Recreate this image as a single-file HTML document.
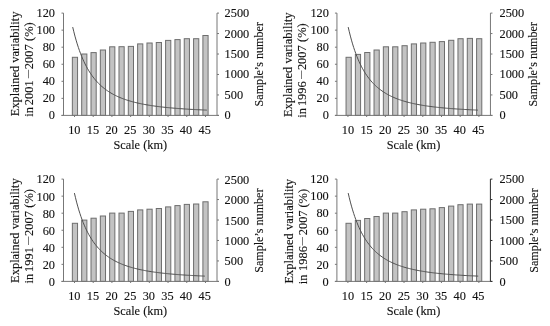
<!DOCTYPE html>
<html><head><meta charset="utf-8"><title>Explained variability vs scale</title>
<style>
html,body{margin:0;padding:0;background:#fff;width:550px;height:326px;overflow:hidden}
svg{display:block}
text{font-family:"Liberation Serif","Times New Roman",serif;font-size:12.3px;fill:#111;stroke:#111;stroke-width:0.12px}
.yt text{font-size:12.45px}
.d{font-size:8.3px}
.rt{font-size:12.1px}
.b{fill:#c3c3c3;stroke:#6e6e6e;stroke-width:1}
.ax{fill:none;stroke-width:1}
.cv{fill:none;stroke:#505050;stroke-width:1}
</style></head><body>
<svg width="550" height="326" viewBox="0 0 550 326">
<rect width="550" height="326" fill="#fff"/>
<g transform="translate(0,0)">
<rect x="72.35" y="57.3" width="5.2" height="58.1" class="b"/>
<rect x="81.68" y="54" width="5.2" height="61.4" class="b"/>
<rect x="91" y="52.6" width="5.2" height="62.8" class="b"/>
<rect x="100.33" y="50" width="5.2" height="65.4" class="b"/>
<rect x="109.65" y="46.8" width="5.2" height="68.6" class="b"/>
<rect x="118.98" y="46.7" width="5.2" height="68.7" class="b"/>
<rect x="128.3" y="46.4" width="5.2" height="69" class="b"/>
<rect x="137.62" y="43.9" width="5.2" height="71.5" class="b"/>
<rect x="146.95" y="43" width="5.2" height="72.4" class="b"/>
<rect x="156.28" y="42.5" width="5.2" height="72.9" class="b"/>
<rect x="165.6" y="40.4" width="5.2" height="75" class="b"/>
<rect x="174.92" y="39.6" width="5.2" height="75.8" class="b"/>
<rect x="184.25" y="38.7" width="5.2" height="76.7" class="b"/>
<rect x="193.58" y="38.7" width="5.2" height="76.7" class="b"/>
<rect x="202.9" y="35.5" width="5.2" height="79.9" class="b"/>
<path d="M63.5 13.1V115.4M61.5 115.4H219M61.5 115.4H63.5M61.5 98.35H63.5M61.5 81.3H63.5M61.5 64.25H63.5M61.5 47.2H63.5M61.5 30.15H63.5M61.5 13.1H63.5M74.5 115.4V117M93.21 115.4V117M111.92 115.4V117M130.63 115.4V117M149.34 115.4V117M168.05 115.4V117M186.76 115.4V117M205.47 115.4V117" class="ax" stroke="#777"/>
<path d="M217 13.1V115.4M217 115.4H219M217 94.94H219M217 74.48H219M217 54.02H219M217 33.56H219M217 13.1H219" class="ax" stroke="#777"/>
<polyline points="72.70,27.07 73.83,31.75 74.95,36.10 76.08,40.13 77.21,43.88 78.33,47.37 79.46,50.63 80.59,53.67 81.72,56.51 82.84,59.17 83.97,61.66 85.10,64.00 86.22,66.19 87.35,68.26 88.48,70.20 89.60,72.03 90.73,73.75 91.86,75.38 92.98,76.91 94.11,78.37 95.24,79.74 96.36,81.04 97.49,82.27 98.62,83.44 99.75,84.55 100.87,85.60 102.00,86.60 103.13,87.55 104.25,88.45 105.38,89.32 106.51,90.14 107.63,90.92 108.76,91.67 109.89,92.38 111.01,93.06 112.14,93.71 113.27,94.33 114.39,94.92 115.52,95.49 116.65,96.04 117.78,96.56 118.90,97.06 120.03,97.54 121.16,98.00 122.28,98.44 123.41,98.86 124.54,99.27 125.66,99.66 126.79,100.04 127.92,100.40 129.04,100.75 130.17,101.08 131.30,101.41 132.43,101.72 133.55,102.02 134.68,102.31 135.81,102.58 136.93,102.85 138.06,103.11 139.19,103.36 140.31,103.60 141.44,103.84 142.57,104.06 143.69,104.28 144.82,104.49 145.95,104.70 147.07,104.89 148.20,105.08 149.33,105.27 150.46,105.45 151.58,105.62 152.71,105.79 153.84,105.95 154.96,106.11 156.09,106.26 157.22,106.41 158.34,106.55 159.47,106.69 160.60,106.83 161.72,106.96 162.85,107.09 163.98,107.21 165.11,107.33 166.23,107.45 167.36,107.56 168.49,107.67 169.61,107.78 170.74,107.88 171.87,107.98 172.99,108.08 174.12,108.18 175.25,108.27 176.37,108.36 177.50,108.45 178.63,108.54 179.75,108.62 180.88,108.70 182.01,108.78 183.14,108.86 184.26,108.94 185.39,109.01 186.52,109.08 187.64,109.15 188.77,109.22 189.90,109.29 191.02,109.35 192.15,109.42 193.28,109.48 194.40,109.54 195.53,109.60 196.66,109.66 197.78,109.71 198.91,109.77 200.04,109.82 201.17,109.87 202.29,109.92 203.42,109.98 204.55,110.02 205.67,110.07 206.80,110.12" class="cv"/>
</g>
<g transform="translate(0,0)" text-anchor="end">
<text x="55" y="119.4">0</text>
<text x="55" y="102.35">20</text>
<text x="55" y="85.3">40</text>
<text x="55" y="68.25">60</text>
<text x="55" y="51.2">80</text>
<text x="55" y="34.15">100</text>
<text x="55" y="17.1">120</text>
</g>
<g transform="translate(0,0)">
<text x="224.6" y="119.4">0</text>
<text x="224.6" y="98.94">500</text>
<text x="224.6" y="78.48">1000</text>
<text x="224.6" y="58.02">1500</text>
<text x="224.6" y="37.56">2000</text>
<text x="224.6" y="17.1">2500</text>
</g>
<g transform="translate(0,0)" text-anchor="middle">
<text x="74.3" y="133.7">10</text>
<text x="92.92" y="133.7">15</text>
<text x="111.54" y="133.7">20</text>
<text x="130.16" y="133.7">25</text>
<text x="148.78" y="133.7">30</text>
<text x="167.4" y="133.7">35</text>
<text x="186.02" y="133.7">40</text>
<text x="204.64" y="133.7">45</text>
</g>
<g transform="translate(0,0)"><text x="140.25" y="148.9" text-anchor="middle">Scale (km)</text></g>
<g transform="translate(0,0)" class="yt">
<text transform="translate(18.9,116.2) rotate(-90)">Explained variability</text>
<text transform="translate(33,116.8) rotate(-90)">in <tspan x="11.6">2001 </tspan><tspan class="d" x="38.6" dy="-2.7">—</tspan><tspan x="47.6" dy="2.7">2007 </tspan><tspan x="75.8">(%)</tspan></text>
</g>
<g transform="translate(0,0)"><text transform="translate(262.5,64.25) rotate(-90)" text-anchor="middle" class="rt">Sample’s number</text></g>
<g transform="translate(273.45,0)">
<rect x="72.6" y="57.3" width="5.2" height="58.1" class="b"/>
<rect x="81.93" y="54.4" width="5.2" height="61" class="b"/>
<rect x="91.25" y="52.5" width="5.2" height="62.9" class="b"/>
<rect x="100.58" y="50" width="5.2" height="65.4" class="b"/>
<rect x="109.9" y="46.8" width="5.2" height="68.6" class="b"/>
<rect x="119.23" y="46.8" width="5.2" height="68.6" class="b"/>
<rect x="128.55" y="45.7" width="5.2" height="69.7" class="b"/>
<rect x="137.88" y="43.9" width="5.2" height="71.5" class="b"/>
<rect x="147.2" y="43" width="5.2" height="72.4" class="b"/>
<rect x="156.53" y="42.3" width="5.2" height="73.1" class="b"/>
<rect x="165.85" y="41.6" width="5.2" height="73.8" class="b"/>
<rect x="175.17" y="40.3" width="5.2" height="75.1" class="b"/>
<rect x="184.5" y="38.7" width="5.2" height="76.7" class="b"/>
<rect x="193.83" y="38.4" width="5.2" height="77" class="b"/>
<rect x="203.15" y="38.7" width="5.2" height="76.7" class="b"/>
<path d="M63.5 13.1V115.4M61.5 115.4H219M61.5 115.4H63.5M61.5 98.35H63.5M61.5 81.3H63.5M61.5 64.25H63.5M61.5 47.2H63.5M61.5 30.15H63.5M61.5 13.1H63.5M74.5 115.4V117M93.21 115.4V117M111.92 115.4V117M130.63 115.4V117M149.34 115.4V117M168.05 115.4V117M186.76 115.4V117M205.47 115.4V117" class="ax" stroke="#777"/>
<path d="M217 13.1V115.4M217 115.4H219M217 94.94H219M217 74.48H219M217 54.02H219M217 33.56H219M217 13.1H219" class="ax" stroke="#777"/>
<polyline points="74.75,27.07 75.84,31.75 76.93,36.10 78.02,40.13 79.11,43.88 80.20,47.37 81.29,50.63 82.38,53.67 83.47,56.51 84.56,59.17 85.64,61.66 86.73,64.00 87.82,66.19 88.91,68.26 90.00,70.20 91.09,72.03 92.18,73.75 93.27,75.38 94.36,76.91 95.45,78.37 96.54,79.74 97.63,81.04 98.72,82.27 99.81,83.44 100.90,84.55 101.99,85.60 103.08,86.60 104.17,87.55 105.26,88.45 106.35,89.32 107.43,90.14 108.52,90.92 109.61,91.67 110.70,92.38 111.79,93.06 112.88,93.71 113.97,94.33 115.06,94.92 116.15,95.49 117.24,96.04 118.33,96.56 119.42,97.06 120.51,97.54 121.60,98.00 122.69,98.44 123.78,98.86 124.87,99.27 125.96,99.66 127.05,100.04 128.14,100.40 129.22,100.75 130.31,101.08 131.40,101.41 132.49,101.72 133.58,102.02 134.67,102.31 135.76,102.58 136.85,102.85 137.94,103.11 139.03,103.36 140.12,103.60 141.21,103.84 142.30,104.06 143.39,104.28 144.48,104.49 145.57,104.70 146.66,104.89 147.75,105.08 148.84,105.27 149.93,105.45 151.01,105.62 152.10,105.79 153.19,105.95 154.28,106.11 155.37,106.26 156.46,106.41 157.55,106.55 158.64,106.69 159.73,106.83 160.82,106.96 161.91,107.09 163.00,107.21 164.09,107.33 165.18,107.45 166.27,107.56 167.36,107.67 168.45,107.78 169.54,107.88 170.63,107.98 171.72,108.08 172.80,108.18 173.89,108.27 174.98,108.36 176.07,108.45 177.16,108.54 178.25,108.62 179.34,108.70 180.43,108.78 181.52,108.86 182.61,108.94 183.70,109.01 184.79,109.08 185.88,109.15 186.97,109.22 188.06,109.29 189.15,109.35 190.24,109.42 191.33,109.48 192.42,109.54 193.51,109.60 194.59,109.66 195.68,109.71 196.77,109.77 197.86,109.82 198.95,109.87 200.04,109.92 201.13,109.98 202.22,110.02 203.31,110.07 204.40,110.12" class="cv"/>
</g>
<g transform="translate(273.9,0)" text-anchor="end">
<text x="55" y="119.4">0</text>
<text x="55" y="102.35">20</text>
<text x="55" y="85.3">40</text>
<text x="55" y="68.25">60</text>
<text x="55" y="51.2">80</text>
<text x="55" y="34.15">100</text>
<text x="55" y="17.1">120</text>
</g>
<g transform="translate(274.9,0)">
<text x="224.6" y="119.4">0</text>
<text x="224.6" y="98.94">500</text>
<text x="224.6" y="78.48">1000</text>
<text x="224.6" y="58.02">1500</text>
<text x="224.6" y="37.56">2000</text>
<text x="224.6" y="17.1">2500</text>
</g>
<g transform="translate(273.7,0.2)" text-anchor="middle">
<text x="74.3" y="133.7">10</text>
<text x="92.92" y="133.7">15</text>
<text x="111.54" y="133.7">20</text>
<text x="130.16" y="133.7">25</text>
<text x="148.78" y="133.7">30</text>
<text x="167.4" y="133.7">35</text>
<text x="186.02" y="133.7">40</text>
<text x="204.64" y="133.7">45</text>
</g>
<g transform="translate(273.2,0.3)"><text x="140.25" y="148.9" text-anchor="middle">Scale (km)</text></g>
<g transform="translate(272.7,0.9)" class="yt">
<text transform="translate(18.9,116.2) rotate(-90)">Explained variability</text>
<text transform="translate(33,116.8) rotate(-90)">in <tspan x="11.6">1996 </tspan><tspan class="d" x="38.6" dy="-2.7">—</tspan><tspan x="47.6" dy="2.7">2007 </tspan><tspan x="75.8">(%)</tspan></text>
</g>
<g transform="translate(274.5,0)"><text transform="translate(262.5,64.25) rotate(-90)" text-anchor="middle" class="rt">Sample’s number</text></g>
<g transform="translate(0,166)">
<rect x="72.35" y="57.3" width="5.2" height="58.1" class="b"/>
<rect x="81.68" y="54.1" width="5.2" height="61.3" class="b"/>
<rect x="91" y="52.2" width="5.2" height="63.2" class="b"/>
<rect x="100.33" y="50" width="5.2" height="65.4" class="b"/>
<rect x="109.65" y="47.1" width="5.2" height="68.3" class="b"/>
<rect x="118.98" y="47.1" width="5.2" height="68.3" class="b"/>
<rect x="128.3" y="45.4" width="5.2" height="70" class="b"/>
<rect x="137.62" y="43.9" width="5.2" height="71.5" class="b"/>
<rect x="146.95" y="43.2" width="5.2" height="72.2" class="b"/>
<rect x="156.28" y="42.5" width="5.2" height="72.9" class="b"/>
<rect x="165.6" y="40.9" width="5.2" height="74.5" class="b"/>
<rect x="174.92" y="39.6" width="5.2" height="75.8" class="b"/>
<rect x="184.25" y="38.4" width="5.2" height="77" class="b"/>
<rect x="193.58" y="38" width="5.2" height="77.4" class="b"/>
<rect x="202.9" y="35.8" width="5.2" height="79.6" class="b"/>
<path d="M63.5 13.1V115.4M61.5 115.4H219M61.5 115.4H63.5M61.5 98.35H63.5M61.5 81.3H63.5M61.5 64.25H63.5M61.5 47.2H63.5M61.5 30.15H63.5M61.5 13.1H63.5M74.5 115.4V117M93.21 115.4V117M111.92 115.4V117M130.63 115.4V117M149.34 115.4V117M168.05 115.4V117M186.76 115.4V117M205.47 115.4V117" class="ax" stroke="#777"/>
<path d="M217 13.1V115.4M217 115.4H219M217 94.94H219M217 74.48H219M217 54.02H219M217 33.56H219M217 13.1H219" class="ax" stroke="#777"/>
<polyline points="74.40,27.07 75.50,31.75 76.59,36.10 77.69,40.13 78.78,43.88 79.88,47.37 80.97,50.63 82.07,53.67 83.17,56.51 84.26,59.17 85.36,61.66 86.45,64.00 87.55,66.19 88.65,68.26 89.74,70.20 90.84,72.03 91.93,73.75 93.03,75.38 94.12,76.91 95.22,78.37 96.32,79.74 97.41,81.04 98.51,82.27 99.60,83.44 100.70,84.55 101.79,85.60 102.89,86.60 103.99,87.55 105.08,88.45 106.18,89.32 107.27,90.14 108.37,90.92 109.47,91.67 110.56,92.38 111.66,93.06 112.75,93.71 113.85,94.33 114.94,94.92 116.04,95.49 117.14,96.04 118.23,96.56 119.33,97.06 120.42,97.54 121.52,98.00 122.62,98.44 123.71,98.86 124.81,99.27 125.90,99.66 127.00,100.04 128.09,100.40 129.19,100.75 130.29,101.08 131.38,101.41 132.48,101.72 133.57,102.02 134.67,102.31 135.76,102.58 136.86,102.85 137.96,103.11 139.05,103.36 140.15,103.60 141.24,103.84 142.34,104.06 143.44,104.28 144.53,104.49 145.63,104.70 146.72,104.89 147.82,105.08 148.91,105.27 150.01,105.45 151.11,105.62 152.20,105.79 153.30,105.95 154.39,106.11 155.49,106.26 156.58,106.41 157.68,106.55 158.78,106.69 159.87,106.83 160.97,106.96 162.06,107.09 163.16,107.21 164.26,107.33 165.35,107.45 166.45,107.56 167.54,107.67 168.64,107.78 169.73,107.88 170.83,107.98 171.93,108.08 173.02,108.18 174.12,108.27 175.21,108.36 176.31,108.45 177.41,108.54 178.50,108.62 179.60,108.70 180.69,108.78 181.79,108.86 182.88,108.94 183.98,109.01 185.08,109.08 186.17,109.15 187.27,109.22 188.36,109.29 189.46,109.35 190.55,109.42 191.65,109.48 192.75,109.54 193.84,109.60 194.94,109.66 196.03,109.71 197.13,109.77 198.23,109.82 199.32,109.87 200.42,109.92 201.51,109.98 202.61,110.02 203.70,110.07 204.80,110.12" class="cv"/>
</g>
<g transform="translate(0,166.4)" text-anchor="end">
<text x="55" y="119.4">0</text>
<text x="55" y="102.35">20</text>
<text x="55" y="85.3">40</text>
<text x="55" y="68.25">60</text>
<text x="55" y="51.2">80</text>
<text x="55" y="34.15">100</text>
<text x="55" y="17.1">120</text>
</g>
<g transform="translate(0,166.5)">
<text x="224.6" y="119.4">0</text>
<text x="224.6" y="98.94">500</text>
<text x="224.6" y="78.48">1000</text>
<text x="224.6" y="58.02">1500</text>
<text x="224.6" y="37.56">2000</text>
<text x="224.6" y="17.1">2500</text>
</g>
<g transform="translate(0,166.1)" text-anchor="middle">
<text x="74.3" y="133.7">10</text>
<text x="92.92" y="133.7">15</text>
<text x="111.54" y="133.7">20</text>
<text x="130.16" y="133.7">25</text>
<text x="148.78" y="133.7">30</text>
<text x="167.4" y="133.7">35</text>
<text x="186.02" y="133.7">40</text>
<text x="204.64" y="133.7">45</text>
</g>
<g transform="translate(0,166.6)"><text x="140.25" y="148.9" text-anchor="middle">Scale (km)</text></g>
<g transform="translate(0,166.7)" class="yt">
<text transform="translate(18.9,116.2) rotate(-90)">Explained variability</text>
<text transform="translate(33,116.8) rotate(-90)">in <tspan x="11.6">1991 </tspan><tspan class="d" x="38.6" dy="-2.7">—</tspan><tspan x="47.6" dy="2.7">2007 </tspan><tspan x="75.8">(%)</tspan></text>
</g>
<g transform="translate(0,166.4)"><text transform="translate(262.5,64.25) rotate(-90)" text-anchor="middle" class="rt">Sample’s number</text></g>
<g transform="translate(273.4,166)">
<rect x="72.6" y="57.3" width="5.2" height="58.1" class="b"/>
<rect x="81.93" y="54.4" width="5.2" height="61" class="b"/>
<rect x="91.25" y="52.5" width="5.2" height="62.9" class="b"/>
<rect x="100.58" y="50.5" width="5.2" height="64.9" class="b"/>
<rect x="109.9" y="47.1" width="5.2" height="68.3" class="b"/>
<rect x="119.23" y="47.1" width="5.2" height="68.3" class="b"/>
<rect x="128.55" y="45.7" width="5.2" height="69.7" class="b"/>
<rect x="137.88" y="43.9" width="5.2" height="71.5" class="b"/>
<rect x="147.2" y="43.2" width="5.2" height="72.2" class="b"/>
<rect x="156.53" y="42.8" width="5.2" height="72.6" class="b"/>
<rect x="165.85" y="41.6" width="5.2" height="73.8" class="b"/>
<rect x="175.17" y="40.1" width="5.2" height="75.3" class="b"/>
<rect x="184.5" y="38.7" width="5.2" height="76.7" class="b"/>
<rect x="193.83" y="38.1" width="5.2" height="77.3" class="b"/>
<rect x="203.15" y="38.1" width="5.2" height="77.3" class="b"/>
<path d="M63.5 13.1V115.4M61.5 115.4H219M61.5 115.4H63.5M61.5 98.35H63.5M61.5 81.3H63.5M61.5 64.25H63.5M61.5 47.2H63.5M61.5 30.15H63.5M61.5 13.1H63.5M74.5 115.4V117M93.21 115.4V117M111.92 115.4V117M130.63 115.4V117M149.34 115.4V117M168.05 115.4V117M186.76 115.4V117M205.47 115.4V117" class="ax" stroke="#777"/>
<path d="M217 13.1V115.4M217 115.4H219M217 94.94H219M217 74.48H219M217 54.02H219M217 33.56H219M217 13.1H219" class="ax" stroke="#2a2a2a"/>
<polyline points="74.80,27.07 75.89,31.75 76.98,36.10 78.08,40.13 79.17,43.88 80.26,47.37 81.35,50.63 82.45,53.67 83.54,56.51 84.63,59.17 85.72,61.66 86.82,64.00 87.91,66.19 89.00,68.26 90.09,70.20 91.19,72.03 92.28,73.75 93.37,75.38 94.46,76.91 95.56,78.37 96.65,79.74 97.74,81.04 98.83,82.27 99.93,83.44 101.02,84.55 102.11,85.60 103.20,86.60 104.30,87.55 105.39,88.45 106.48,89.32 107.57,90.14 108.67,90.92 109.76,91.67 110.85,92.38 111.94,93.06 113.04,93.71 114.13,94.33 115.22,94.92 116.31,95.49 117.41,96.04 118.50,96.56 119.59,97.06 120.68,97.54 121.77,98.00 122.87,98.44 123.96,98.86 125.05,99.27 126.14,99.66 127.24,100.04 128.33,100.40 129.42,100.75 130.51,101.08 131.61,101.41 132.70,101.72 133.79,102.02 134.88,102.31 135.98,102.58 137.07,102.85 138.16,103.11 139.25,103.36 140.35,103.60 141.44,103.84 142.53,104.06 143.62,104.28 144.72,104.49 145.81,104.70 146.90,104.89 147.99,105.08 149.09,105.27 150.18,105.45 151.27,105.62 152.36,105.79 153.46,105.95 154.55,106.11 155.64,106.26 156.73,106.41 157.83,106.55 158.92,106.69 160.01,106.83 161.10,106.96 162.19,107.09 163.29,107.21 164.38,107.33 165.47,107.45 166.56,107.56 167.66,107.67 168.75,107.78 169.84,107.88 170.93,107.98 172.03,108.08 173.12,108.18 174.21,108.27 175.30,108.36 176.40,108.45 177.49,108.54 178.58,108.62 179.67,108.70 180.77,108.78 181.86,108.86 182.95,108.94 184.04,109.01 185.14,109.08 186.23,109.15 187.32,109.22 188.41,109.29 189.51,109.35 190.60,109.42 191.69,109.48 192.78,109.54 193.88,109.60 194.97,109.66 196.06,109.71 197.15,109.77 198.25,109.82 199.34,109.87 200.43,109.92 201.52,109.98 202.62,110.02 203.71,110.07 204.80,110.12" class="cv"/>
</g>
<g transform="translate(273.7,166.3)" text-anchor="end">
<text x="55" y="119.4">0</text>
<text x="55" y="102.35">20</text>
<text x="55" y="85.3">40</text>
<text x="55" y="68.25">60</text>
<text x="55" y="51.2">80</text>
<text x="55" y="34.15">100</text>
<text x="55" y="17.1">120</text>
</g>
<g transform="translate(275,166.4)">
<text x="224.6" y="119.4">0</text>
<text x="224.6" y="98.94">500</text>
<text x="224.6" y="78.48">1000</text>
<text x="224.6" y="58.02">1500</text>
<text x="224.6" y="37.56">2000</text>
<text x="224.6" y="17.1">2500</text>
</g>
<g transform="translate(273.7,166.3)" text-anchor="middle">
<text x="74.3" y="133.7">10</text>
<text x="92.92" y="133.7">15</text>
<text x="111.54" y="133.7">20</text>
<text x="130.16" y="133.7">25</text>
<text x="148.78" y="133.7">30</text>
<text x="167.4" y="133.7">35</text>
<text x="186.02" y="133.7">40</text>
<text x="204.64" y="133.7">45</text>
</g>
<g transform="translate(273.2,166.6)"><text x="140.25" y="148.9" text-anchor="middle">Scale (km)</text></g>
<g transform="translate(273.6,167.4)" class="yt">
<text transform="translate(18.9,116.2) rotate(-90)">Explained variability</text>
<text transform="translate(33,116.8) rotate(-90)">in <tspan x="13.2">1986</tspan><tspan class="d" x="38.6" dy="-2.7">—</tspan><tspan x="48.9" dy="2.7">2007 </tspan><tspan x="76.6">(%)</tspan></text>
</g>
<g transform="translate(275.2,166.4)"><text transform="translate(262.5,64.25) rotate(-90)" text-anchor="middle" class="rt">Sample’s number</text></g>
</svg>
</body></html>
